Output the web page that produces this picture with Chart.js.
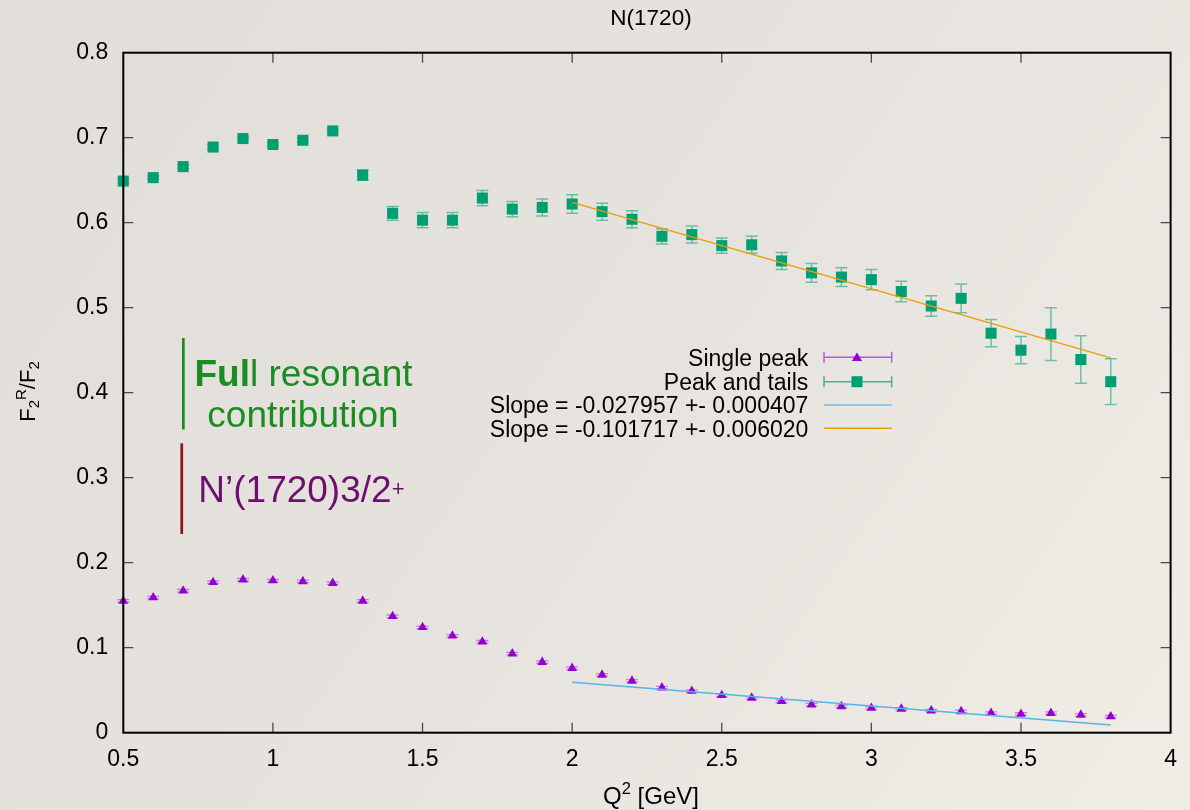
<!DOCTYPE html>
<html>
<head>
<meta charset="utf-8">
<script src="https://cdn.jsdelivr.net/npm/chart.js@4.4.1/dist/chart.umd.min.js"></script>
<style>
  html, body { margin: 0; padding: 0; background: #e6e3de; }
  #wrap { width: 1190px; height: 810px; }
</style>
</head>
<body>
<div id="wrap"><canvas id="c" width="1190" height="810"></canvas></div>
<script>
// ---------------- data ----------------
const q2 = [0.5, 0.6, 0.7, 0.8, 0.9, 1.0, 1.1, 1.2, 1.3, 1.4, 1.5, 1.6, 1.7, 1.8, 1.9, 2.0, 2.1,
            2.2, 2.3, 2.4, 2.5, 2.6, 2.7, 2.8, 2.9, 3.0, 3.1, 3.2, 3.3, 3.4, 3.5, 3.6, 3.7, 3.8];

const singlePeak = [0.155, 0.159, 0.167, 0.177, 0.180, 0.179, 0.178, 0.176, 0.155, 0.137, 0.124,
                    0.114, 0.107, 0.093, 0.083, 0.076, 0.068, 0.061, 0.053, 0.049, 0.044, 0.041,
                    0.037, 0.033, 0.031, 0.029, 0.028, 0.026, 0.025, 0.023, 0.022, 0.023, 0.021, 0.019];
const singlePeakErr = [0.0015, 0.0015, 0.0015, 0.0015, 0.0015, 0.0015, 0.0015, 0.0015, 0.0015, 0.0015,
                       0.0015, 0.0015, 0.0015, 0.0015, 0.0015, 0.0015, 0.0015, 0.0015, 0.0015, 0.0015,
                       0.0015, 0.0015, 0.0015, 0.0015, 0.0015, 0.0015, 0.0015, 0.0015, 0.0015, 0.0015,
                       0.0015, 0.0015, 0.0015, 0.0015];

const peakTails = [0.649, 0.653, 0.666, 0.689, 0.699, 0.692, 0.697, 0.708, 0.656, 0.611, 0.603,
                   0.603, 0.629, 0.616, 0.618, 0.622, 0.613, 0.604, 0.584, 0.586, 0.573, 0.574,
                   0.555, 0.541, 0.536, 0.533, 0.519, 0.502, 0.511, 0.470, 0.450, 0.469, 0.439, 0.413];
const peakTailsErr = [0.002, 0.002, 0.002, 0.002, 0.002, 0.002, 0.002, 0.002, 0.006, 0.008, 0.009,
                      0.009, 0.009, 0.009, 0.010, 0.011, 0.010, 0.010, 0.009, 0.010, 0.009, 0.010,
                      0.010, 0.011, 0.011, 0.012, 0.012, 0.012, 0.017, 0.016, 0.016, 0.031, 0.028, 0.027];

const fitX = [2.0, 3.8];
const fitSingle = [0.0593, 0.0090];
const fitTails = [0.624, 0.441];

const xTickLabels = ['0.5', '1', '1.5', '2', '2.5', '3', '3.5', '4'];
const yTickLabels = ['0', '0.1', '0.2', '0.3', '0.4', '0.5', '0.6', '0.7', '0.8'];

const titleText = 'N(1720)';
const legendLabels = ['Single peak', 'Peak and tails',
                      'Slope = -0.027957 +- 0.000407', 'Slope = -0.101717 +- 0.006020'];

// ---------------- styles ----------------
const FONT = '"Liberation Sans", Arial, Helvetica, sans-serif';
const PURPLE = '#9400d3';
const GREEN = '#009e73';
const BLUE = '#56b4e9';
const ORANGE = '#e69f00';

function pts(xv, yv) { return xv.map((x, i) => ({ x: x, y: yv[i] })); }

const bgPlugin = {
  id: 'bg',
  beforeDraw(chart) {
    const ctx = chart.ctx;
    ctx.save();
    const g = ctx.createLinearGradient(0, 0, chart.width, chart.height);
    g.addColorStop(0, '#e1ded9');
    g.addColorStop(0.5, '#e6e3de');
    g.addColorStop(1, '#f0ede7');
    ctx.fillStyle = g;
    ctx.fillRect(0, 0, chart.width, chart.height);
    ctx.restore();
  }
};

const errPlugin = {
  id: 'errbars',
  beforeDatasetsDraw(chart) {
    const ctx = chart.ctx, xs = chart.scales.x, ys = chart.scales.y;
    function draw(vals, errs, color, lw, cap) {
      ctx.save();
      ctx.strokeStyle = color;
      ctx.lineWidth = lw;
      q2.forEach((xv, i) => {
        const px = xs.getPixelForValue(xv);
        const top = ys.getPixelForValue(vals[i] + errs[i]);
        const bot = ys.getPixelForValue(vals[i] - errs[i]);
        ctx.beginPath();
        ctx.moveTo(px, top); ctx.lineTo(px, bot);
        ctx.moveTo(px - cap, top); ctx.lineTo(px + cap, top);
        ctx.moveTo(px - cap, bot); ctx.lineTo(px + cap, bot);
        ctx.stroke();
      });
      ctx.restore();
    }
    draw(singlePeak, singlePeakErr, 'rgba(148,0,211,0.45)', 1.3, 6);
    draw(peakTails, peakTailsErr, 'rgba(0,158,115,0.55)', 1.5, 6);
  }
};

const framePlugin = {
  id: 'frame',
  afterDatasetsDraw(chart) {
    const ctx = chart.ctx, a = chart.chartArea, xs = chart.scales.x, ys = chart.scales.y;
    ctx.save();
    ctx.strokeStyle = '#4a4a4a';
    ctx.lineWidth = 1.3;
    ctx.beginPath();
    xs.ticks.forEach(t => {
      if (t.value <= xs.min || t.value >= xs.max) return;
      const px = xs.getPixelForValue(t.value);
      ctx.moveTo(px, a.bottom); ctx.lineTo(px, a.bottom - 10);
      ctx.moveTo(px, a.top); ctx.lineTo(px, a.top + 10);
    });
    ys.ticks.forEach(t => {
      if (t.value <= ys.min || t.value >= ys.max) return;
      const py = ys.getPixelForValue(t.value);
      ctx.moveTo(a.left, py); ctx.lineTo(a.left + 10, py);
      ctx.moveTo(a.right, py); ctx.lineTo(a.right - 10, py);
    });
    ctx.stroke();
    ctx.strokeStyle = '#000';
    ctx.lineWidth = 2;
    ctx.strokeRect(a.left, a.top, a.right - a.left, a.bottom - a.top);
    ctx.restore();
  }
};

function drawRich(ctx, parts, x, y) {
  // parts: [text, size, shift, weight]
  let cx = x;
  parts.forEach(p => {
    ctx.font = (p[3] || 'normal') + ' ' + p[1] + 'px ' + FONT;
    ctx.fillText(p[0], cx, y + p[2]);
    cx += ctx.measureText(p[0]).width;
  });
  return cx;
}
function richWidth(ctx, parts) {
  let w = 0;
  parts.forEach(p => {
    ctx.font = (p[3] || 'normal') + ' ' + p[1] + 'px ' + FONT;
    w += ctx.measureText(p[0]).width;
  });
  return w;
}

const textPlugin = {
  id: 'texts',
  afterDraw(chart) {
    const ctx = chart.ctx;
    ctx.save();
    ctx.fillStyle = '#000';
    ctx.textBaseline = 'alphabetic';

    // title
    ctx.font = '22.5px ' + FONT;
    ctx.textAlign = 'center';
    ctx.fillText(titleText, 651, 24.5);

    // x-axis label
    ctx.textAlign = 'left';
    const xl = [['Q', 24, 0], ['2', 16.5, -10], [' [GeV]', 24, 0]];
    const xw = richWidth(ctx, xl);
    drawRich(ctx, xl, 651 - xw / 2, 803.5);

    // y-axis label (rotated)
    const yl = [['F', 22, 0], ['2', 15, 4], ['R', 15, -9], ['/F', 22, 0], ['2', 15, 4]];
    ctx.save();
    ctx.translate(35, 391.5);
    ctx.rotate(-Math.PI / 2);
    const yw = richWidth(ctx, yl);
    drawRich(ctx, yl, -yw / 2, 0);
    ctx.restore();

    // legend
    const lx = 808.3, s0 = 824, s1 = 891.7, sm = 857;
    const rows = [357.3, 381.7, 405, 428.3];
    ctx.font = '23px ' + FONT;
    ctx.textAlign = 'right';
    legendLabels.forEach((t, i) => ctx.fillText(t, lx, rows[i] + 8.2));
    // row 1: purple error-bar sample with triangle
    ctx.lineWidth = 1.5;
    ctx.strokeStyle = 'rgba(148,0,211,0.6)';
    ctx.beginPath();
    ctx.moveTo(s0, rows[0]); ctx.lineTo(s1, rows[0]);
    ctx.moveTo(s0, rows[0] - 5.5); ctx.lineTo(s0, rows[0] + 5.5);
    ctx.moveTo(s1, rows[0] - 5.5); ctx.lineTo(s1, rows[0] + 5.5);
    ctx.stroke();
    ctx.fillStyle = PURPLE;
    Chart.helpers.drawPoint(ctx, { pointStyle: 'triangle', radius: 5.6, borderWidth: 0 }, sm, rows[0] + 1);
    ctx.fill();
    // row 2: green sample with square
    ctx.strokeStyle = 'rgba(0,158,115,0.7)';
    ctx.beginPath();
    ctx.moveTo(s0, rows[1]); ctx.lineTo(s1, rows[1]);
    ctx.moveTo(s0, rows[1] - 5.5); ctx.lineTo(s0, rows[1] + 5.5);
    ctx.moveTo(s1, rows[1] - 5.5); ctx.lineTo(s1, rows[1] + 5.5);
    ctx.stroke();
    ctx.fillStyle = GREEN;
    ctx.fillRect(sm - 5.5, rows[1] - 5.5, 11, 11);
    // rows 3-4: fit lines
    ctx.lineWidth = 2;
    ctx.strokeStyle = 'rgba(86,180,233,0.6)';
    ctx.beginPath(); ctx.moveTo(s0, rows[2]); ctx.lineTo(s1, rows[2]); ctx.stroke();
    ctx.lineWidth = 1.4;
    ctx.strokeStyle = ORANGE;
    ctx.beginPath(); ctx.moveTo(s0, rows[3]); ctx.lineTo(s1, rows[3]); ctx.stroke();

    // annotation: Full resonant contribution
    ctx.fillStyle = '#1c8c22';
    ctx.fillRect(182, 338, 2.7, 91.5);
    ctx.textAlign = 'left';
    const full = [['Ful', 37, 0, 'bold'], ['l resonant', 37, 0]];
    const fw = richWidth(ctx, full);
    drawRich(ctx, full, 303.5 - fw / 2, 385.5);
    ctx.font = '37px ' + FONT;
    ctx.textAlign = 'center';
    ctx.fillText('contribution', 303, 426.7);

    // annotation: N'(1720)3/2+
    ctx.fillStyle = '#8c1414';
    ctx.fillRect(180.4, 443.3, 2.7, 90.7);
    ctx.fillStyle = '#6e0f70';
    ctx.textAlign = 'left';
    drawRich(ctx, [['N\u2019(1720)3/2', 37, 0], ['+', 22, -6]], 198.3, 501.7);

    ctx.restore();
  }
};

const chart = new Chart(document.getElementById('c'), {
  type: 'scatter',
  data: {
    datasets: [
      { label: legendLabels[2], data: pts(fitX, fitSingle), showLine: true, borderColor: BLUE,
        borderWidth: 1.4, pointRadius: 0, fill: false, order: 0, clip: false },
      { label: legendLabels[3], data: pts(fitX, fitTails), showLine: true, borderColor: ORANGE,
        borderWidth: 1.4, pointRadius: 0, fill: false, order: 0, clip: false },
      { label: legendLabels[0], data: pts(q2, singlePeak), pointStyle: 'triangle', pointRadius: 5.6,
        backgroundColor: PURPLE, borderColor: PURPLE, borderWidth: 0, showLine: false, order: 1, clip: false },
      { label: legendLabels[1], data: pts(q2, peakTails), pointStyle: 'rect', pointRadius: 7.8,
        backgroundColor: GREEN, borderColor: GREEN, borderWidth: 0, showLine: false, order: 1, clip: false }
    ]
  },
  options: {
    responsive: false,
    animation: false,
    devicePixelRatio: 1,
    layout: { padding: { left: 0, right: 9.3, top: 52.7, bottom: 0 } },
    plugins: { legend: { display: false }, title: { display: false }, tooltip: { enabled: false } },
    events: [],
    scales: {
      x: {
        type: 'linear', min: 0.5, max: 4,
        grid: { display: false, drawTicks: false }, border: { display: false },
        ticks: { stepSize: 0.5, autoSkip: false, maxRotation: 0, padding: 13, color: '#000',
                 font: { family: FONT, size: 23 }, callback: (v, i) => xTickLabels[i] },
        afterFit: s => { s.height = 77.3; }
      },
      y: {
        type: 'linear', min: 0, max: 0.8,
        grid: { display: false, drawTicks: false }, border: { display: false },
        ticks: { stepSize: 0.1, autoSkip: false, padding: 15, color: '#000',
                 font: { family: FONT, size: 23 }, callback: (v, i) => yTickLabels[i] },
        afterFit: s => { s.width = 123.3; }
      }
    }
  },
  plugins: [bgPlugin, errPlugin, framePlugin, textPlugin]
});
</script>
</body>
</html>
